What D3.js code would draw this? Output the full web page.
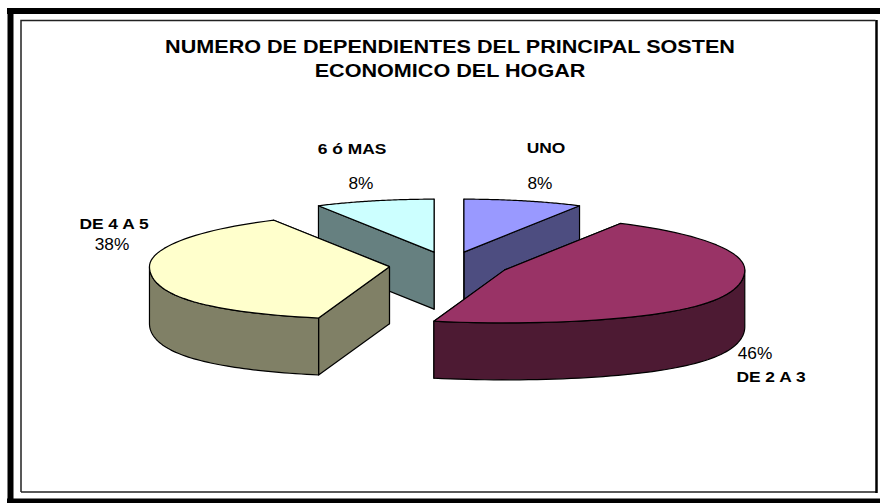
<!DOCTYPE html>
<html>
<head>
<meta charset="utf-8">
<script src="https://d3js.org/d3.v7.min.js"></script>
<style>
  html, body { margin: 0; padding: 0; background: #fff; }
  svg { display: block; }
  text { font-family: "Liberation Sans", Arial, sans-serif; fill: #000; }
</style>
</head>
<body>
<div id="chart"></div>
<script>
// Chart data
const categories = ["UNO", "DE 2 A 3", "DE 4 A 5", "6 ó MAS"];
const percents = [8, 46, 38, 8];
const colors = ["#9999FF", "#993366", "#FFFFCC", "#CCFFFF"];
const titleLines = ["NUMERO DE DEPENDIENTES DEL PRINCIPAL SOSTEN", "ECONOMICO DEL HOGAR"];

const width = 880;
const height = 503;

// Tilted pie: unit circle mapped on an ellipse, walls are "depth" px high
const cx = 449, cy = 265, rx = 240, ry = 53;
const depth = 57;
const explode = 0.25;
const perspective = 0.2; // front of the pie is a bit wider than the back

const x = d3.scaleLinear().domain([-1, 1]).range([cx - rx, cx + rx]);
const y = d3.scaleLinear().domain([-1, 1]).range([cy - ry, cy + ry]);

const svg = d3.select("#chart")
    .append("svg")
    .attr("width", width)
    .attr("height", height);

// Outer thick frame (top, left, bottom)
svg.append("path")
    .attr("d", "M7,11 H880 M10.5,8 V503 M7,501.5 H880")
    .attr("fill", "none")
    .attr("stroke", "#000")
    .attr("stroke-width", 6);

// Inner chart area border
svg.append("path")
    .attr("d", "M21,492 V20.5 H875.5")
    .attr("fill", "none")
    .attr("stroke", "#222")
    .attr("stroke-width", 1.5);
svg.append("path")
    .attr("d", "M21,492 H877")
    .attr("fill", "none")
    .attr("stroke", "#222")
    .attr("stroke-width", 1.5);
svg.append("path")
    .attr("d", "M876.5,20 V493")
    .attr("fill", "none")
    .attr("stroke", "#000")
    .attr("stroke-width", 2.5);

// Text is stretched sideways in the reference
function addText(str, px, py, size, weight, stretch) {
    svg.append("text")
        .attr("transform", `translate(${px},${py}) scale(${stretch},1)`)
        .attr("text-anchor", "middle")
        .style("font-size", size + "px")
        .style("font-weight", weight)
        .text(str);
}

// Title
titleLines.forEach((t, i) => addText(t, 450, 53 + i * 24, 18, "bold", 1.2));

// Pie angles, clockwise from 12 o'clock
const arcs = d3.pie().sort(null)(percents);

function project(a, r, off) {
    const v = Math.max(0, -Math.cos(a));
    const u = r * Math.sin(a) * (1 + perspective * v * v);
    return [x(off[0] + u), y(off[1] - r * Math.cos(a))];
}

function rim(off, a0, a1) {
    return d3.range(0, 61).map(i => project(a0 + (a1 - a0) * i / 60, 1, off));
}

const line = d3.line();
const down = p => [p[0], p[1] + depth];
const dark = c => { const k = d3.rgb(c); return d3.rgb(k.r / 2, k.g / 2, k.b / 2).formatHex(); };

// Back slices first, then the front ones
const drawOrder = [3, 0, 2, 1];

drawOrder.forEach(i => {
    const d = arcs[i];
    const mid = (d.startAngle + d.endAngle) / 2;
    const off = [explode * Math.sin(mid), -explode * Math.cos(mid)];
    const apex = project(0, 0, off);
    const edge = rim(off, d.startAngle, d.endAngle);
    const g = svg.append("g")
        .attr("stroke", "#000")
        .attr("stroke-width", 1.2)
        .attr("stroke-linejoin", "round");

    // Cut walls
    [edge[edge.length - 1], edge[0]].forEach(p => {
        g.append("path")
            .attr("d", line([apex, p, down(p), down(apex)]) + "Z")
            .attr("fill", dark(colors[i]));
    });
    // Outer wall, only the part facing the viewer
    const a0 = Math.max(d.startAngle, Math.PI / 2);
    const a1 = Math.min(d.endAngle, 3 * Math.PI / 2);
    if (a1 > a0) {
        const front = rim(off, a0, a1);
        g.append("path")
            .attr("d", line(front.concat(front.map(down).reverse())) + "Z")
            .attr("fill", dark(colors[i]));
    }
    // Top face
    g.append("path")
        .attr("d", line([apex].concat(edge)) + "Z")
        .attr("fill", colors[i]);
});

// Data labels
const nameX = [546, 771, 114, 352];
const nameY = [153, 382, 229, 154];
const pctX = [540, 755, 112, 361];
const pctY = [189, 359, 250, 189];

categories.forEach((c, i) => {
    addText(c, nameX[i], nameY[i], 14.5, "bold", 1.2);
    addText(percents[i] + "%", pctX[i], pctY[i], 16, "normal", 1.08);
});
</script>
</body>
</html>
